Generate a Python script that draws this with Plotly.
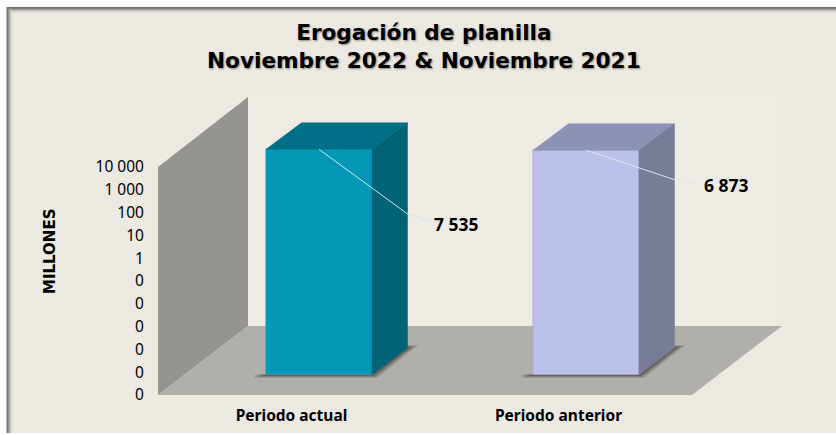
import math
import plotly.graph_objects as go

W, H = 836, 435

# ---- data ----
categories = ["Periodo actual", "Periodo anterior"]
values = [7535, 6873]
tick_vals = [1e4, 1e3, 1e2, 1e1, 1, 1e-1, 1e-2, 1e-3, 1e-4, 1e-5, 1e-6]
tick_text = ["10 000", "1 000", "100", "10", "1", "0", "0", "0", "0", "0", "0"]
title_lines = ["Erogación de planilla", "Noviembre 2022 &amp; Noviembre 2021"]
axis_title = "MILLONES"

# ---- styling ----
front_colors = ["#0497B8", "#BCC1EB"]
edge_colors = ["#0A9ABA", "#A6ABDA"]
top_colors = ["#007088", "#8E93B5"]
side_colors = ["#006376", "#787C98"]
leader_colors = ["#CFE6EA", "#E4E4EE"]
PANEL = "#ECE9E2"
BACK = "#EEEBE5"
FLOOR = "#B0AFAA"
WALL = "#959490"
TXT = "#000000"
FONT = "DejaVu Sans"
FONT2 = "Noto Sans"

# ---- geometry (pixels) of the pseudo-3D box ----
X0, X1 = 158, 692      # front plane left / right
Y_BOT = 395            # front plane bottom (log value 1e-6)
DECADE = 22.8          # pixels per decade
LOG_MIN = -6
LOG_MAX = 7.07
Y_TOP = Y_BOT - DECADE * (LOG_MAX - LOG_MIN)
DEPTH_X, DEPTH_Y = 90, 69   # full depth of the box
BAR_SHIFT_X, BAR_SHIFT_Y = 27.5, 20.5   # bar front plane vs box front plane
BAR_DX, BAR_DY = 35.5, 26.5             # bar depth
BAR_WIDTH = 106
X_UNIT = (X1 - X0) / 2  # pixels per category


def pxx(x):
    return x / W


def pxy(y):
    return 1 - y / H


def poly(points, color, **kw):
    path = "M " + " L ".join(f"{pxx(x):.5f} {pxy(y):.5f}" for x, y in points) + " Z"
    return dict(type="path", xref="paper", yref="paper", path=path, fillcolor=color,
                line=dict(width=0), layer="below", **kw)


def rect(x0, y0, x1, y1, color, line=None):
    return dict(type="rect", xref="paper", yref="paper", x0=pxx(x0), y0=pxy(y0),
                x1=pxx(x1), y1=pxy(y1), fillcolor=color,
                line=dict(width=1, color=line) if line else dict(width=0), layer="below")


shapes = []
bevel = ["#6E6E6C", "#84837F", "#A09F9B", "#BDBBB6", "#D5D3CD", "#E4E1DA", PANEL]
for i, c in enumerate(bevel):
    shapes.append(rect(6.5 + i, 7 + i, W + 5, 433, c))
# back wall
shapes.append(rect(X0 + DEPTH_X, Y_TOP, X1 + DEPTH_X, Y_BOT - DEPTH_Y, BACK))
# left wall
shapes.append(poly([(X0, Y_BOT), (X0 + DEPTH_X, Y_BOT - DEPTH_Y), (X0 + DEPTH_X, Y_TOP),
                    (X0, Y_BOT - DECADE * 10)], WALL))
# floor
shapes.append(poly([(X0, Y_BOT), (X1, Y_BOT), (X1 + DEPTH_X, Y_BOT - DEPTH_Y),
                    (X0 + DEPTH_X, Y_BOT - DEPTH_Y)], FLOOR))

traces = []
dx_u = BAR_DX / X_UNIT
dl_u = BAR_DY / DECADE
half = BAR_WIDTH / X_UNIT / 2
centers = [i + 0.5 for i in range(len(categories))]


def logpts(xs, logs, **kw):
    return dict(x=xs, y=[10 ** l for l in logs], **kw)


# base shadows: on the first subplot, so they lie under the bars
for c in centers:
    xl = c + BAR_SHIFT_X / X_UNIT - half
    xr = c + BAR_SHIFT_X / X_UNIT + half
    b = LOG_MIN + BAR_SHIFT_Y / DECADE
    for grow, op in ((1.0, 0.18), (0.7, 0.28), (0.4, 0.4)):
        xs = [xl - 11 * grow / X_UNIT, xr + 5 * grow / X_UNIT,
              xr + dx_u + 11 * grow / X_UNIT, xr + dx_u, xr, xl - 11 * grow / X_UNIT]
        ls = [b - 3.5 * grow / DECADE, b - 3.5 * grow / DECADE, b + dl_u + 3 * grow / DECADE,
              b + dl_u + 3 * grow / DECADE, b, b]
        traces.append(go.Scatter(**logpts(xs, ls), xaxis="x", yaxis="y", mode="lines",
                                 fill="toself", fillcolor=f"rgba(60,58,55,{op})",
                                 line=dict(width=0), hoverinfo="skip", showlegend=False))

# bar front faces
traces.append(go.Bar(x=centers, y=values, width=BAR_WIDTH / X_UNIT, xaxis="x2", yaxis="y2",
                     marker=dict(color=front_colors, line=dict(color=edge_colors, width=1)),
                     hovertemplate="%{y}<extra></extra>", showlegend=False))

# top and side faces
for c, v, tc, sc in zip(centers, values, top_colors, side_colors):
    l = math.log10(v)
    xl, xr = c - half, c + half
    traces.append(go.Scatter(**logpts([xl, xr, xr + dx_u, xl + dx_u, xl],
                                      [l, l, l + dl_u, l + dl_u, l]),
                             xaxis="x2", yaxis="y2", mode="lines", fill="toself", fillcolor=tc,
                             line=dict(width=0.5, color=tc), hoverinfo="skip", showlegend=False))
    traces.append(go.Scatter(**logpts([xr, xr + dx_u, xr + dx_u, xr, xr],
                                      [l, l + dl_u, LOG_MIN + dl_u, LOG_MIN, l]),
                             xaxis="x2", yaxis="y2", mode="lines", fill="toself", fillcolor=sc,
                             line=dict(width=0.5, color=sc), hoverinfo="skip", showlegend=False))

# leader lines: pixel offsets from the bar's top-centre
leaders = [[(0, 0), (89, 65), (112, 72)], [(0, 0), (90, 30), (113, 34)]]
label_shift = [(137, 75), (140, 35)]
annotations = []
for c, v, pts, col, sh in zip(centers, values, leaders, leader_colors, label_shift):
    l = math.log10(v)
    xs = [c + p[0] / X_UNIT for p in pts]
    ls = [l - p[1] / DECADE for p in pts]
    traces.append(go.Scatter(**logpts(xs, ls), xaxis="x2", yaxis="y2", mode="lines",
                             line=dict(width=1, color=col), hoverinfo="skip", showlegend=False))
    annotations.append(dict(xref="x2", yref="y2", x=c, y=l, xshift=sh[0], yshift=-sh[1],
                            xanchor="center", yanchor="middle",
                            text=f"<b>{v:,}</b>".replace(",", " "), showarrow=False,
                            font=dict(family=FONT2, size=17.5, color=TXT)))

annotations.append(dict(xref="paper", yref="paper", x=pxx(50), y=pxy(252),
                        xanchor="center", yanchor="middle",
                        text=f"<b>{axis_title}</b>", textangle=-90, showarrow=False,
                        font=dict(family=FONT, size=15, color=TXT)))
annotations.append(dict(xref="paper", yref="paper", x=pxx(424), y=pxy(47),
                        xanchor="center", yanchor="middle",
                        text="<b>" + "<br>".join(title_lines) + "</b>", showarrow=False,
                        font=dict(family=FONT, size=21.6, color=TXT,
                                  shadow="1px 1px 2px rgba(0,0,0,0.4)")))

fig = go.Figure(traces)
fig.update_layout(
    width=W, height=H, margin=dict(l=0, r=0, t=0, b=0, pad=0), autosize=False,
    paper_bgcolor="#FFFFFF", plot_bgcolor="rgba(0,0,0,0)", showlegend=False,
    shapes=shapes, annotations=annotations, bargap=0,
    font=dict(family=FONT2, color=TXT),
    xaxis=dict(domain=[pxx(X0), pxx(X1)], range=[0, 2], tickmode="array", tickvals=centers,
               ticktext=[f"<b>{c}</b>" for c in categories], ticks="outside", ticklen=6,
               tickcolor="rgba(0,0,0,0)", tickfont=dict(family=FONT2, size=15.5, color=TXT),
               showgrid=False, zeroline=False, showline=False, anchor="y", automargin=False),
    yaxis=dict(type="log", domain=[pxy(Y_BOT), pxy(Y_TOP)], range=[LOG_MIN, LOG_MAX],
               tickmode="array", tickvals=tick_vals, ticktext=tick_text, ticks="outside",
               ticklen=10, tickcolor="rgba(0,0,0,0)",
               tickfont=dict(family=FONT2, size=15.5, color=TXT),
               showgrid=False, zeroline=False, showline=False, anchor="x", automargin=False),
    xaxis2=dict(domain=[pxx(X0 + BAR_SHIFT_X), pxx(X1 + BAR_SHIFT_X)], range=[0, 2],
                visible=False, anchor="y2", automargin=False),
    yaxis2=dict(type="log", domain=[pxy(Y_BOT - BAR_SHIFT_Y), pxy(Y_TOP - BAR_SHIFT_Y)],
                range=[LOG_MIN, LOG_MAX], visible=False, anchor="x2", automargin=False),
)

fig.write_html("out.html", config=dict(displayModeBar=False),
               post_script="document.body.style.margin='0';document.documentElement.style.overflow='hidden';")
